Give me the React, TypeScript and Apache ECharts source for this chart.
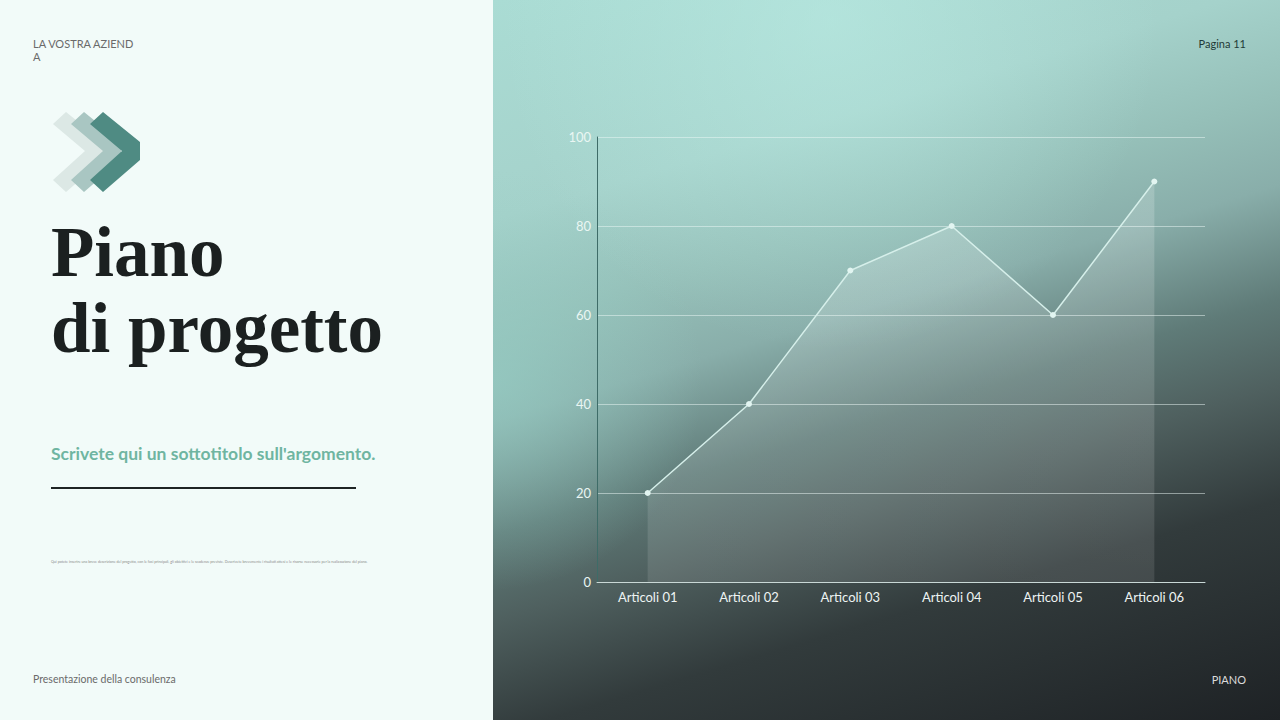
import { useEffect, useRef } from "react";
import * as echarts from "echarts";

const categories = [
    "Articoli 01",
    "Articoli 02",
    "Articoli 03",
    "Articoli 04",
    "Articoli 05",
    "Articoli 06"
];

const values = [20, 40, 70, 80, 60, 90];

const yTicks = [0, 20, 40, 60, 80, 100];

const sans = "Lato, 'Noto Sans', sans-serif";
const serif = "'Liberation Serif', 'DejaVu Serif', serif";

function chevron(ox: number, color: string) {
    return {
        type: "polygon",
        z: 5,
        shape: {
            points: [
                [ox + 13, 112],
                [ox + 50, 142],
                [ox + 50, 160],
                [ox + 13, 192],
                [ox, 180],
                [ox + 32, 151],
                [ox, 124]
            ]
        },
        style: { fill: color }
    };
}

function text(
    x: number,
    y: number,
    value: string,
    size: number,
    fill: string,
    extra: Record<string, unknown> = {}
) {
    return {
        type: "text",
        z: 10,
        x,
        y,
        style: {
            text: value,
            fontSize: size,
            fontFamily: sans,
            fill,
            verticalAlign: "middle",
            ...extra
        }
    };
}

function App() {

    const chartRef =
        useRef<HTMLDivElement>(null);

    useEffect(() => {

        if (!chartRef.current)
            return;

        const chart =
            echarts.init(chartRef.current, undefined, { renderer: "svg" });

        chart.setOption({

            animation: false,

            grid: {
                left: 597,
                right: 75,
                top: 137,
                bottom: 138
            },

            xAxis: {
                type: "category",
                data: categories,
                boundaryGap: true,
                axisLine: {
                    lineStyle: { color: "#c9d8d6", width: 1 }
                },
                axisTick: { show: false },
                axisLabel: {
                    color: "#eef4f3",
                    fontSize: 13,
                    fontFamily: sans,
                    margin: 8
                }
            },

            yAxis: {
                type: "value",
                min: yTicks[0],
                max: yTicks[yTicks.length - 1],
                interval: 20,
                axisLine: {
                    show: true,
                    lineStyle: { color: "#3e6c68", width: 1 }
                },
                axisTick: { show: false },
                axisLabel: {
                    color: "#eaf6f3",
                    fontSize: 13,
                    fontFamily: sans,
                    margin: 6
                },
                splitLine: {
                    lineStyle: { color: "rgba(235,248,245,0.5)", width: 1 }
                }
            },

            series: [
                {
                    type: "line",
                    data: values,
                    symbol: "circle",
                    symbolSize: 6,
                    lineStyle: { color: "#d6efea", width: 1.5 },
                    itemStyle: { color: "#e2f5f1" },
                    areaStyle: {
                        color: new echarts.graphic.LinearGradient(0, 0, 0, 1, [
                            { offset: 0, color: "rgba(255,255,255,0.26)" },
                            { offset: 1, color: "rgba(255,255,255,0.15)" }
                        ])
                    },
                    z: 3
                }
            ],

            graphic: [
                {
                    type: "rect",
                    z: -10,
                    shape: { x: 0, y: 0, width: 493, height: 720 },
                    style: { fill: "#f2fbf9" }
                },
                {
                    type: "rect",
                    z: -10,
                    shape: { x: 493, y: 0, width: 787, height: 720 },
                    style: {
                        fill: new echarts.graphic.LinearGradient(493, 0, 756, 877, [
                            { offset: 0, color: "#aadcd4" },
                            { offset: 0.23, color: "#a5d2cb" },
                            { offset: 0.35, color: "#95bfb8" },
                            { offset: 0.44, color: "#89aeaa" },
                            { offset: 0.56, color: "#5f7b78" },
                            { offset: 0.65, color: "#4f605f" },
                            { offset: 0.77, color: "#323b3c" },
                            { offset: 1, color: "#1e2225" }
                        ], true)
                    }
                },
                {
                    type: "rect",
                    z: -9,
                    shape: { x: 493, y: 0, width: 787, height: 720 },
                    style: {
                        fill: new echarts.graphic.RadialGradient(493, 380, 210, [
                            { offset: 0, color: "rgba(150,205,196,0.7)" },
                            { offset: 0.55, color: "rgba(150,205,196,0.3)" },
                            { offset: 1, color: "rgba(150,205,196,0)" }
                        ], true)
                    }
                },
                {
                    type: "rect",
                    z: -9,
                    shape: { x: 493, y: 0, width: 787, height: 720 },
                    style: {
                        fill: new echarts.graphic.RadialGradient(830, 20, 330, [
                            { offset: 0, color: "rgba(190,240,232,0.5)" },
                            { offset: 1, color: "rgba(190,240,232,0)" }
                        ], true)
                    }
                },
                chevron(53, "#dce8e5"),
                chevron(71, "#a9c6c2"),
                chevron(90, "#4f8b83"),
                text(33, 43, "LA VOSTRA AZIEND", 11, "#6a6a6a"),
                text(33, 56, "A", 11, "#6a6a6a"),
                text(51, 252, "Piano", 71, "#1b2020", { fontFamily: serif, fontWeight: "bold" }),
                text(51, 328, "di progetto", 71, "#1b2020", { fontFamily: serif, fontWeight: "bold" }),
                text(51, 453, "Scrivete qui un sottotitolo sull'argomento.", 17.5, "#6fb5a1", { fontWeight: "bold" }),
                {
                    type: "line",
                    z: 10,
                    shape: { x1: 51, y1: 488, x2: 356, y2: 488 },
                    style: { stroke: "#1e2424", lineWidth: 2 }
                },
                text(51, 561, "Qui potete inserire una breve descrizione del progetto, con le fasi principali, gli obiettivi e le scadenze previste. Descrivete brevemente i risultati attesi e le risorse necessarie per la realizzazione del piano.", 3.6, "#8a8a8a"),
                text(33, 679, "Presentazione della consulenza", 10.5, "#6a6a6a"),
                text(1246, 43, "Pagina 11", 11, "#1f3a37", { align: "right" }),
                text(1246, 679, "PIANO", 11, "#dcdcdc", { align: "right" })
            ]
        });

        return () => {
            chart.dispose();
        };

    }, []);

    return (
        <div
            ref={chartRef}
            style={{
                position: "absolute",
                left: 0,
                top: 0,
                width: "1280px",
                height: "720px"
            }}
        />
    );
}

export default App;
